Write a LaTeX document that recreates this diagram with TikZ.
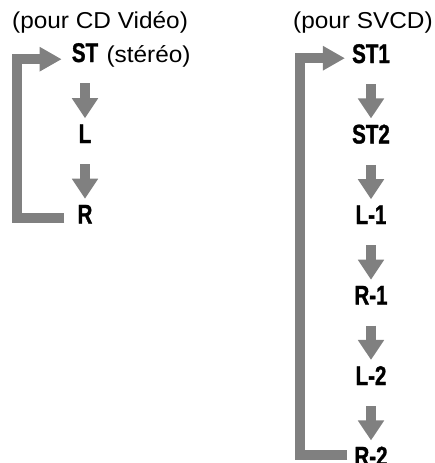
\documentclass[tikz,border=0pt]{standalone}
\usepackage{fontspec}
\setmainfont{Liberation Sans}[FakeStretch=1.06]
\newfontfamily\chanfont{Liberation Sans}[FakeStretch=0.76, FakeBold=1.2]
\definecolor{arrowgray}{HTML}{808080}
\usetikzlibrary{arrows.meta}

\begin{document}
\begin{tikzpicture}[x=1pt, y=-1pt,
				heading/.style={anchor=base west, inner sep=0pt, font=\fontsize{23}{27}\selectfont},
				chan/.style={anchor=base, inner sep=0pt, font=\chanfont\bfseries\fontsize{27}{31}\selectfont},
				arrow/.style={arrowgray, line width=9.5pt, -{Triangle[width=25pt, length=20pt]}, shorten <=21pt, shorten >=6pt},
				return/.style={arrowgray, line width=10pt, -{Triangle[width=23pt, length=22pt]}}
			]
			\useasboundingbox (0,0) rectangle (435,463);

			% Headings
			\node[heading] (cdhead) at (12,28) {(pour CD Vidéo)};
			\node[heading] (svcdhead) at (293,28) {(pour SVCD)};

			% CD Video column
			\node[chan] (st) at (85,62) {ST};
			\node[heading] (stereo) at ([xshift=8pt]st.base east) {(stéréo)};
			\node[chan] (l) at (85,143) {L};
			\node[chan] (r) at (85,223.5) {R};

			\draw[arrow] (st.south) -- (l.north);
			\draw[arrow] (l.south) -- (r.north);
			\coordinate (barcd) at (17,140);
			\draw[return] ([xshift=-13pt,yshift=-3.5pt]r.west) -| (barcd) |- ([xshift=-10pt,yshift=-6.5pt]st.west);

			% SVCD column
			\node[chan] (st1) at (371,63) {ST1};
			\node[chan] (st2) at (371,143.5) {ST2};
			\node[chan] (l1) at (371,224) {L-1};
			\node[chan] (r1) at (371,304.5) {R-1};
			\node[chan] (l2) at (371,385) {L-2};
			\node[chan] (r2) at (371,465.5) {R-2};

			\draw[arrow] (st1.south) -- (st2.north);
			\draw[arrow] (st2.south) -- (l1.north);
			\draw[arrow] (l1.south) -- (r1.north);
			\draw[arrow] (r1.south) -- (l2.north);
			\draw[arrow] (l2.south) -- (r2.north);
			\coordinate (barsvcd) at (300,260);
			\draw[return] ([xshift=-7pt,yshift=1pt]r2.west) -| (barsvcd) |- ([xshift=-7pt,yshift=-4.5pt]st1.west);
		\end{tikzpicture}
\end{document}
